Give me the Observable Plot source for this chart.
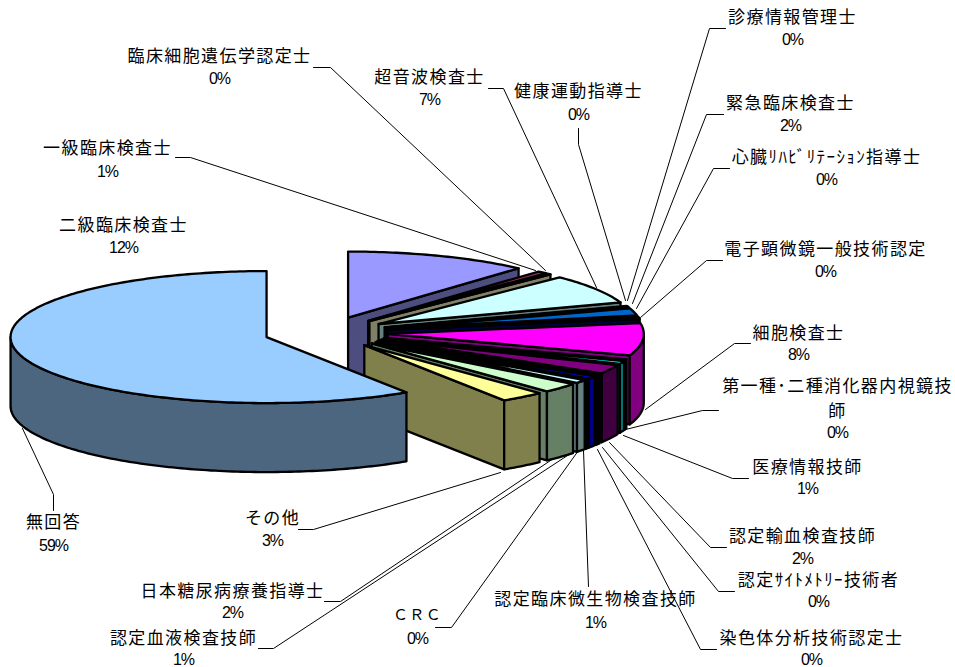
<!DOCTYPE html>
<html><head><meta charset="utf-8">
<script src="https://cdn.jsdelivr.net/npm/d3@7"></script>
<script src="https://cdn.jsdelivr.net/npm/@observablehq/plot@0.6"></script>
<style>
html,body{margin:0;padding:0;background:#fff}
g[font-family*="Noto"] text{letter-spacing:1.4px}
g[font-family*="Liberation"] text{letter-spacing:-1px}
</style></head><body>
<div id="chart"></div>
<script>
const categories = ["二級臨床検査士","一級臨床検査士","臨床細胞遺伝学認定士","超音波検査士","健康運動指導士","診療情報管理士","緊急臨床検査士","心臓ﾘﾊﾋﾞﾘﾃｰｼｮﾝ指導士","電子顕微鏡一般技術認定","細胞検査士","第一種･二種消化器内視鏡技師","医療情報技師","認定輸血検査技師","認定ｻｲﾄﾒﾄﾘｰ技術者","染色体分析技術認定士","認定臨床微生物検査技師","ＣＲＣ","認定血液検査技師","日本糖尿病療養指導士","その他","無回答"];
const values = [11.6,0.6,0.3,7.2,0.2,0.2,1.7,0.3,0.3,7.9,0.3,0.7,2.2,0.2,0.2,0.7,0.2,0.8,2.4,2.8,59.2];
const colors = ["#9999FF","#993366","#FFFFCC","#CCFFFF","#660066","#FF8080","#0066CC","#CCCCFF","#000080","#FF00FF","#FFFF00","#00FFFF","#800080","#800000","#008080","#0000FF","#00CCFF","#CCFFFF","#CCFFCC","#FFFF99","#99CCFF"];
const sideColors = colors.map(c => { const r = d3.rgb(c); return d3.rgb(r.r/2, r.g/2, r.b/2).formatHex(); });

// label layout (x centre, y of name line, y of percent line)
const labelX = [123,107,219,429,578,792,790,826,825,798,837,807,802,818,811,595,417,183,232,272,53];
const labelY = [225,148,56,77,91,17,103,157,249,333,386,467,536,580,638,599,615,638,591,518,522];
const pctY   = [247,171,78,99,114,39,125,179,271,354,432,488,558,601,659,622,638,659,612,540,545];
// leader lines, one polyline per category: label end, elbow, pie end
const leaderX = [null,[175,190,535],[313,330,545],[488,503,596],[578,578,625],[725,709,627],[723,706,632],[729,713,636],[722,706,640],[750,734,645],[718,702,625],[748,732,623],[726,710,609],[734,718,602],[716,700,597],[588,583],[435,451,578],[258,273,570],[324,340,553],[298,313,500],[53,53,22]];
const leaderY = [null,[157,157,270],[67,67,270],[88,88,287],[128,144,300],[28,28,300],[114,114,303],[168,168,308],[260,260,317],[343,343,409],[410,410,429],[478,478,435],[547,547,442],[591,591,447],[649,649,449],[586,450],[627,627,450],[648,648,453],[601,601,458],[529,529,472],[510,494,428]];

// pie geometry
const cx = 325.5, cy = 332, rx = 256, ry = 66, depth = 69, explode = 62;
const total = d3.sum(values);
const rad = Math.PI / 180;
let acc = 0;
const faces = [];
const pt = (o, a, down = 0) => ({x: o.x + rx * Math.sin(a), y: o.y - ry * Math.cos(a) + down});
const arc = (o, a0, a1, down = 0) => {
  const n = Math.max(2, Math.ceil((a1 - a0) / (1 * rad)));
  return d3.range(n + 1).map(i => pt(o, a0 + (a1 - a0) * i / n, down));
};
values.forEach((v, i) => {
  const a0 = acc / total * 2 * Math.PI; acc += v;
  const a1 = acc / total * 2 * Math.PI;
  const mid = (a0 + a1) / 2;
  const o = {x: cx + explode * Math.sin(mid), y: cy - explode * (ry / rx) * Math.cos(mid)};
  const add = (kind, pts, fill) => pts.forEach(p => faces.push({...p, z: `${i}-${kind}`, fill}));
  const wall = a => { const p = pt(o, a); add("w" + a, [o, p, {x: p.x, y: p.y + depth}, {x: o.x, y: o.y + depth}], sideColors[i]); };
  if (Math.sin(a0) < -1e-9) wall(a0);
  if (Math.sin(a1) > 1e-9) wall(a1);
  const r0 = Math.max(a0, Math.PI / 2), r1 = Math.min(a1, 1.5 * Math.PI);
  if (r1 > r0) add("rim", [...arc(o, r0, r1), ...arc(o, r0, r1, depth).reverse()], sideColors[i]);
  add("top", [o, ...arc(o, a0, a1)], colors[i]);
});

const leaders = categories.flatMap((c, i) => leaderX[i] ? leaderX[i].map((x, j) => ({c, x, y: leaderY[i][j]})) : []);
const pctLabel = v => `${Math.round(v)}%`;
const names = categories.flatMap((c, i) => {
  if (c.length > 13 && c.endsWith("技師")) return [{t: c.slice(0, -1), x: labelX[i], y: labelY[i]}, {t: c.slice(-1), x: labelX[i], y: labelY[i] + 25}];
  return [{t: c, x: labelX[i], y: labelY[i]}];
});
const pcts = values.map((v, i) => ({t: pctLabel(v), x: labelX[i], y: pctY[i]}));

const plot = Plot.plot({
  width: 955, height: 667, margin: 0,
  x: {domain: [0, 955], range: [0, 955], axis: null},
  y: {domain: [0, 667], range: [0, 667], axis: null},
  style: {background: "#fff"},
  marks: [
    Plot.line(leaders, {x: "x", y: "y", z: "c", stroke: "#000", strokeWidth: 1, strokeLinejoin: "miter"}),
    Plot.line(faces, {x: "x", y: "y", z: "z", fill: "fill", stroke: "#000", strokeWidth: 2.3, curve: "linear-closed", strokeLinejoin: "round"}),
    Plot.text(names, {x: "x", y: "y", text: "t", fontSize: d => d.t.length === 3 && d.t.startsWith("Ｃ") ? 15 : 17, fill: "#000", fontFamily: "'Noto Sans CJK JP'"}),
    Plot.text(pcts, {x: "x", y: "y", text: "t", fontSize: 16, fill: "#000", fontFamily: "'Liberation Sans'"})
  ]
});
document.getElementById("chart").appendChild(plot);
</script></body></html>
